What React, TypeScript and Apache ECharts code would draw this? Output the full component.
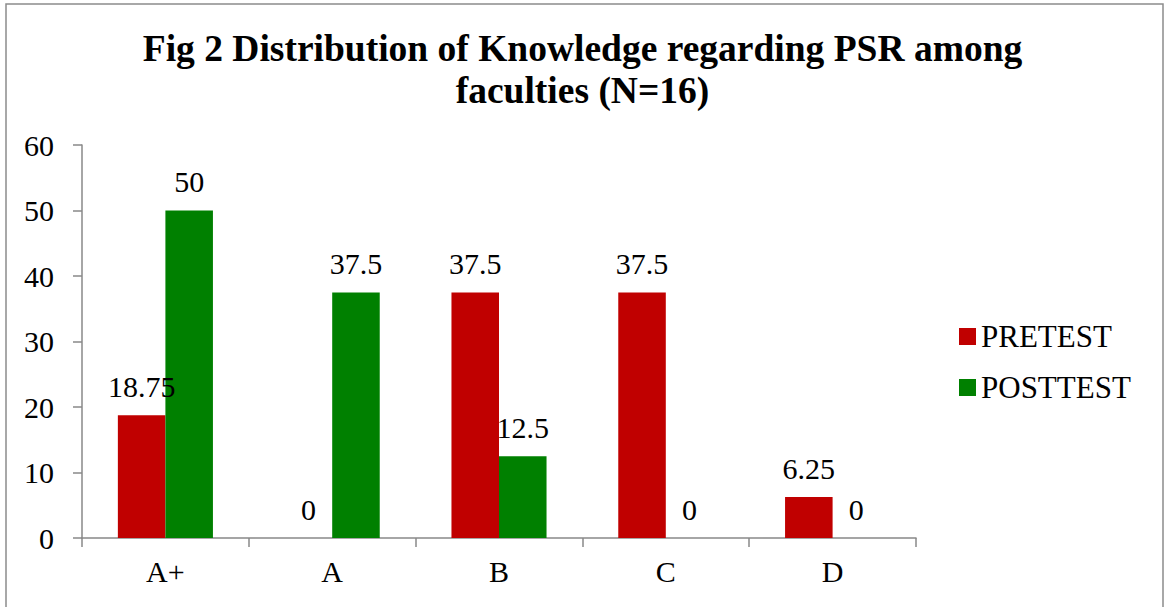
import React, { useEffect, useRef } from "react";
import * as echarts from "echarts";

const categories = ["A+", "A", "B", "C", "D"];
const pretest = [18.75, 0, 37.5, 37.5, 6.25];
const posttest = [50, 37.5, 12.5, 0, 0];
const seriesNames = ["PRETEST", "POSTTEST"];
const titleText = "Fig 2 Distribution of Knowledge regarding PSR among\nfaculties (N=16)";

const FONT = "'Liberation Serif', 'Times New Roman', serif";

export default function App() {
  const ref = useRef<HTMLDivElement>(null);
  useEffect(() => {
    document.body.style.margin = "0";
    const chart = echarts.init(ref.current!, null, { renderer: "svg" });
    const labelStyle = {
      show: true,
      position: "top" as const,
      distance: 14,
      color: "#000",
      fontFamily: FONT,
      fontSize: 30,
    };
    chart.setOption({
      animation: false,
      backgroundColor: "#fff",
      title: {
        text: titleText,
        left: "center",
        top: 22,
        textStyle: {
          fontFamily: FONT,
          fontWeight: "bold",
          fontSize: 37.5,
          lineHeight: 42,
          color: "#000",
        },
      },
      graphic: [
        {
          type: "rect",
          shape: { x: 6, y: 4, width: 1157, height: 610 },
          style: { fill: "none", stroke: "#8c8c8c", lineWidth: 1.5 },
          silent: true,
        },
      ],
      legend: {
        orient: "vertical",
        left: 954,
        top: 316,
        itemWidth: 17,
        itemHeight: 17,
        itemGap: 20,
        icon: "rect",
        textStyle: { fontFamily: FONT, fontSize: 31, lineHeight: 30, color: "#000", padding: [0, 0, 0, 0] },
        data: seriesNames,
      },
      grid: { left: 82, right: 249, top: 145, bottom: 69, containLabel: false },
      xAxis: {
        type: "category",
        data: categories,
        axisLine: { lineStyle: { color: "#888", width: 1.5 } },
        axisTick: { show: true, alignWithLabel: false, length: 9, lineStyle: { color: "#888", width: 1.5 } },
        axisLabel: { color: "#000", fontFamily: FONT, fontSize: 30, margin: 18 },
      },
      yAxis: {
        type: "value",
        min: 0,
        max: 60,
        interval: 10,
        axisLine: { show: true, lineStyle: { color: "#888", width: 1.5 } },
        axisTick: { show: true, length: 9, lineStyle: { color: "#888", width: 1.5 } },
        splitLine: { show: false },
        axisLabel: { color: "#000", fontFamily: FONT, fontSize: 30, margin: 28 },
      },
      series: [
        {
          name: seriesNames[0],
          type: "bar",
          data: pretest,
          barGap: "0%",
          barCategoryGap: "43%",
          itemStyle: { color: "#C00000" },
          label: labelStyle,
        },
        {
          name: seriesNames[1],
          type: "bar",
          data: posttest,
          itemStyle: { color: "#008000" },
          label: labelStyle,
        },
      ],
    });
    return () => chart.dispose();
  }, []);
  return <div ref={ref} style={{ position: "fixed", left: 0, top: 0, width: 1165, height: 607 }} />;
}
